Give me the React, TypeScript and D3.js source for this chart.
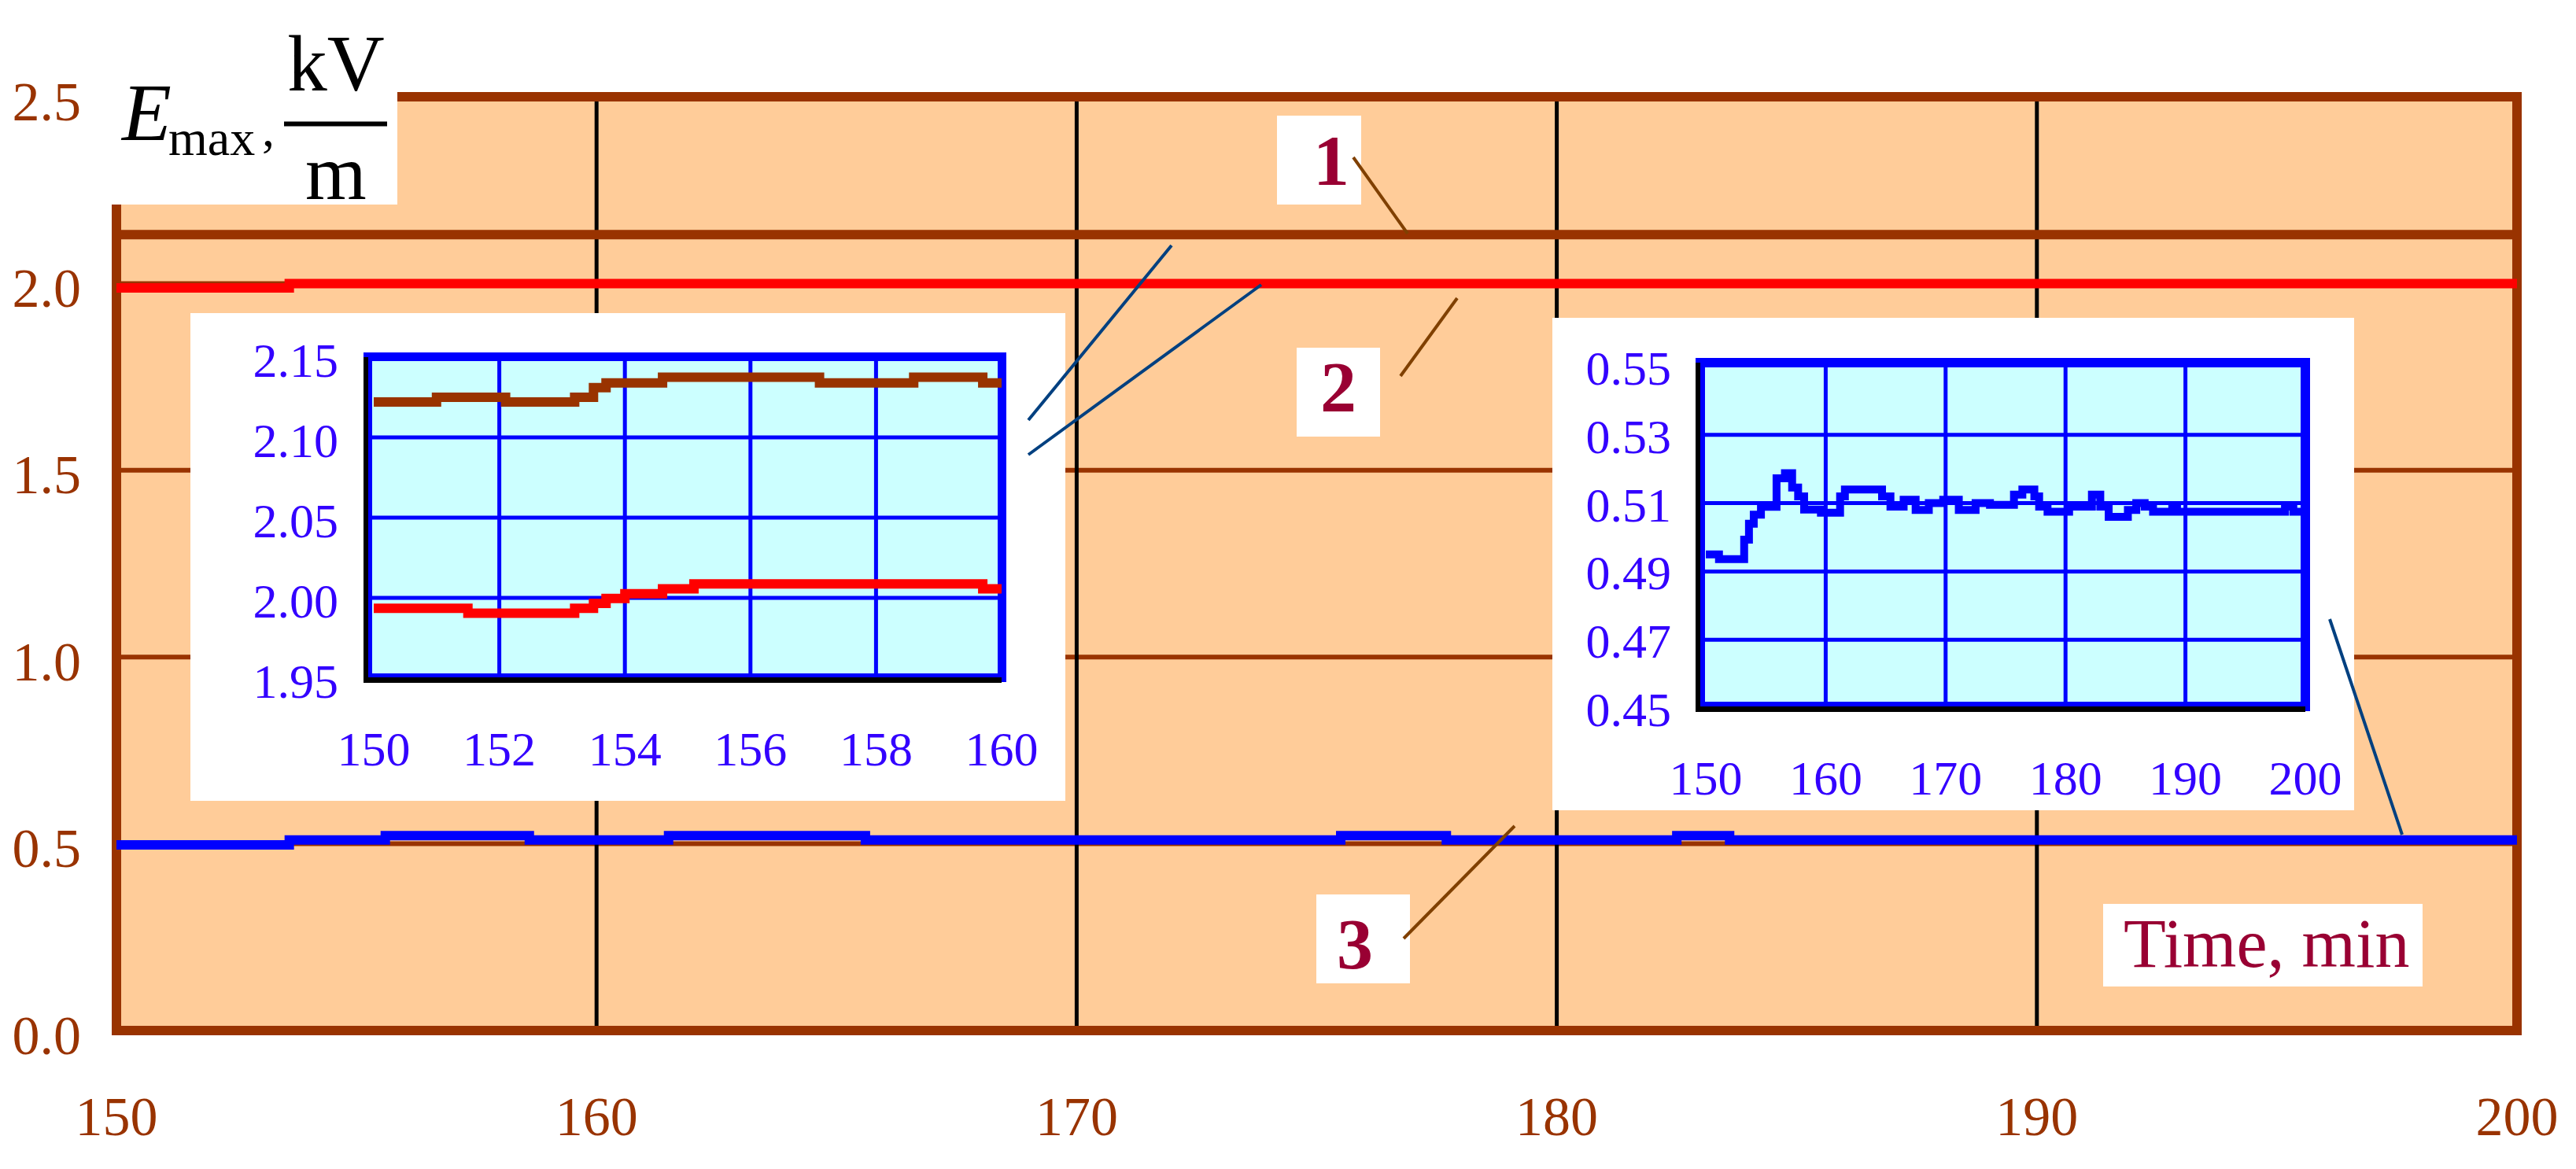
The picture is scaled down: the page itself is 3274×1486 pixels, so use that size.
import React from "react";
import * as d3 from "d3";

// ---------- data ----------
const mainTicksX = [150, 160, 170, 180, 190, 200];
const mainTicksY = [0.0, 0.5, 1.0, 1.5, 2.0, 2.5];

// main chart, step series (time of step start, value)
const s1MainT = [150, 200];
const s1MainV = [2.131, 2.131];
const s2MainT = [150, 153.6, 200];
const s2MainV = [1.988, 2.0, 2.0];
const s3MainT = [150, 153.6, 155.6, 158.6, 161.5, 165.6, 175.5, 177.7, 182.5, 183.6, 200];
const s3MainV = [0.497, 0.51, 0.522, 0.51, 0.522, 0.51, 0.522, 0.51, 0.522, 0.51, 0.51];

// inset 1 (curves 1 and 2, 150..160 min)
const inset1TicksX = [150, 152, 154, 156, 158, 160];
const inset1TicksY = [1.95, 2.0, 2.05, 2.1, 2.15];
const s1InsetT = [150, 151.0, 152.1, 153.2, 153.5, 153.7, 154.6, 157.1, 158.6, 159.7, 160];
const s1InsetV = [2.122, 2.125, 2.122, 2.125, 2.131, 2.134, 2.1375, 2.134, 2.1375, 2.134, 2.134];
const s2InsetT = [150, 151.5, 153.2, 153.5, 153.7, 154.0, 154.6, 155.1, 159.7, 160];
const s2InsetV = [1.9935, 1.9904, 1.9935, 1.9966, 1.9996, 2.0026, 2.0056, 2.0087, 2.0056, 2.0056];

// inset 2 (curve 3, 150..200 min)
const inset2TicksX = [150, 160, 170, 180, 190, 200];
const inset2TicksY = [0.45, 0.47, 0.49, 0.51, 0.53, 0.55];
const s3InsetT = [150, 151.1, 153.2, 153.6, 154.0, 154.6, 155.9, 156.6, 157.2, 157.7, 158.2, 159.6, 161.2, 161.6, 164.7, 165.4, 166.5, 167.5, 168.6, 169.8, 171.1, 172.5, 173.7, 175.7, 176.4, 177.4, 177.8, 178.5, 180.3, 182.2, 182.9, 183.6, 185.2, 185.9, 186.6, 187.3, 188.9, 189.3, 198.3, 199.0, 200];
const s3InsetV = [0.495, 0.4936, 0.4993, 0.504, 0.5066, 0.5089, 0.5173, 0.5188, 0.5146, 0.512, 0.5081, 0.5072, 0.512, 0.514, 0.512, 0.509, 0.511, 0.508, 0.51, 0.511, 0.508, 0.51, 0.5095, 0.5125, 0.514, 0.512, 0.509, 0.5075, 0.509, 0.5125, 0.509, 0.506, 0.508, 0.51, 0.509, 0.5075, 0.509, 0.5075, 0.509, 0.5075, 0.5075];

const curveLabels = ["1", "2", "3"];
const xTitle = "Time, min";

// ---------- styles ----------
const BROWN = "#993300";
const PEACH = "#FFCC99";
const CYAN = "#CCFFFF";
const BLUE = "#0000FF";
const RED = "#FF0000";
const LABEL = "#990033";
const INSET_TXT = "#3300FF";
const SERIF = "'Liberation Serif', 'Times New Roman', serif";

const zip = (t: number[], v: number[]) => t.map((d, i) => [d, v[i]] as [number, number]);

export default function App() {
  const W = 3274, H = 1486;
  const x = d3.scaleLinear().domain([150, 200]).range([148, 3199]);
  const y = d3.scaleLinear().domain([0, 2.5]).range([1310, 123]);
  const mainLine = d3
    .line<[number, number]>()
    .x((d) => x(d[0]))
    .y((d) => y(d[1]))
    .curve(d3.curveStepAfter);

  // inset 1
  const x1 = d3.scaleLinear().domain([150, 160]).range([475, 1273]);
  const y1 = d3.scaleLinear().domain([1.95, 2.15]).range([862, 454]);
  const line1 = d3
    .line<[number, number]>()
    .x((d) => x1(d[0]))
    .y((d) => y1(d[1]))
    .curve(d3.curveStepAfter);

  // inset 2
  const x2 = d3.scaleLinear().domain([150, 200]).range([2168, 2930]);
  const y2 = d3.scaleLinear().domain([0.45, 0.55]).range([900, 466]);
  const line2 = d3
    .line<[number, number]>()
    .x((d) => x2(d[0]))
    .y((d) => y2(d[1]))
    .curve(d3.curveStepAfter);

  const px0 = x(150), px1 = x(200), py0 = y(2.5), py1 = y(0);

  return (
    <svg
      width={W}
      height={H}
      style={{ position: "absolute", left: 0, top: 0, background: "#fff" }}
      fontFamily={SERIF}
    >
      <rect x={0} y={0} width={W} height={H} fill="#fff" />
      {/* plot area */}
      <rect x={px0} y={py0} width={px1 - px0} height={py1 - py0} fill={PEACH} />
      {mainTicksY.slice(1, -1).map((v) => (
        <line key={"hg" + v} x1={px0} x2={px1} y1={y(v)} y2={y(v)} stroke={BROWN} strokeWidth={6} />
      ))}
      {mainTicksX.slice(1, -1).map((v) => (
        <line key={"vg" + v} x1={x(v)} x2={x(v)} y1={py0} y2={py1} stroke="#000" strokeWidth={5} />
      ))}
      <path d={mainLine(zip(s1MainT, s1MainV)) || ""} fill="none" stroke={BROWN} strokeWidth={12} />
      <rect x={px0} y={py0} width={px1 - px0} height={py1 - py0} fill="none" stroke={BROWN} strokeWidth={12} />
      <path d={mainLine(zip(s2MainT, s2MainV)) || ""} fill="none" stroke={RED} strokeWidth={12} />
      <path d={mainLine(zip(s3MainT, s3MainV)) || ""} fill="none" stroke={BLUE} strokeWidth={12} />

      {/* axis tick labels */}
      {mainTicksY.map((v) => (
        <text key={"yl" + v} x={103} y={y(v) + 6} textAnchor="end" dominantBaseline="central" fontSize={70} fill={BROWN}>
          {v.toFixed(1)}
        </text>
      ))}
      {mainTicksX.map((v) => (
        <text key={"xl" + v} x={x(v)} y={1419} textAnchor="middle" dominantBaseline="central" fontSize={70} fill={BROWN}>
          {v}
        </text>
      ))}

      {/* y title box */}
      <rect x={128} y={0} width={377} height={260} fill="#fff" />
      <text x={155} y={178} fontSize={103} fontStyle="italic" fill="#000">E</text>
      <text x={214} y={197} fontSize={64} fill="#000">max</text>
      <text x={333} y={186} fontSize={64} fill="#000">,</text>
      <text x={427} y={115} fontSize={101} textAnchor="middle" fill="#000">kV</text>
      <line x1={361} x2={492} y1={157.5} y2={157.5} stroke="#000" strokeWidth={6} />
      <text x={427} y={253} fontSize={100} textAnchor="middle" fill="#000">m</text>

      {/* inset 1 */}
      <rect x={242} y={398} width={1112} height={620} fill="#fff" />
      <rect x={467} y={454} width={806} height={408} fill={CYAN} />
      {inset1TicksY.slice(1, -1).map((v) => (
        <line key={"i1h" + v} x1={467} x2={1273} y1={y1(v)} y2={y1(v)} stroke={BLUE} strokeWidth={5} />
      ))}
      {inset1TicksX.slice(1, -1).map((v) => (
        <line key={"i1v" + v} x1={x1(v)} x2={x1(v)} y1={454} y2={862} stroke={BLUE} strokeWidth={5} />
      ))}
      <rect x={467.5} y={453.5} width={806} height={408} fill="none" stroke={BLUE} strokeWidth={11} />
      <rect x={462} y={454} width={6} height={414} fill="#000" />
      <rect x={462} y={861} width={811} height={7} fill="#000" />
      <path d={line1(zip(s1InsetT, s1InsetV)) || ""} fill="none" stroke={BROWN} strokeWidth={12} />
      <path d={line1(zip(s2InsetT, s2InsetV)) || ""} fill="none" stroke={RED} strokeWidth={12} />
      {inset1TicksY.map((v) => (
        <text key={"i1yl" + v} x={430} y={y1(v) + 4} textAnchor="end" dominantBaseline="central" fontSize={62} fill={INSET_TXT}>
          {v.toFixed(2)}
        </text>
      ))}
      {inset1TicksX.map((v) => (
        <text key={"i1xl" + v} x={x1(v)} y={952} textAnchor="middle" dominantBaseline="central" fontSize={62} fill={INSET_TXT}>
          {v}
        </text>
      ))}

      {/* inset 2 */}
      <rect x={1973} y={404} width={1019} height={626} fill="#fff" />
      <rect x={2161} y={461} width={769} height={437} fill={CYAN} />
      {inset2TicksY.slice(1, -1).map((v) => (
        <line key={"i2h" + v} x1={2161} x2={2930} y1={y2(v)} y2={y2(v)} stroke={BLUE} strokeWidth={5} />
      ))}
      {inset2TicksX.slice(1, -1).map((v) => (
        <line key={"i2v" + v} x1={x2(v)} x2={x2(v)} y1={461} y2={898} stroke={BLUE} strokeWidth={5} />
      ))}
      <rect x={2161} y={461} width={769} height={437} fill="none" stroke={BLUE} strokeWidth={12} />
      <rect x={2155} y={461} width={6} height={444} fill="#000" />
      <rect x={2155} y={898} width={775} height={7} fill="#000" />
      <path d={line2(zip(s3InsetT, s3InsetV)) || ""} fill="none" stroke={BLUE} strokeWidth={10} />
      {inset2TicksY.map((v) => (
        <text key={"i2yl" + v} x={2124} y={y2(v) + 2} textAnchor="end" dominantBaseline="central" fontSize={62} fill={INSET_TXT}>
          {v.toFixed(2)}
        </text>
      ))}
      {inset2TicksX.map((v) => (
        <text key={"i2xl" + v} x={x2(v)} y={989} textAnchor="middle" dominantBaseline="central" fontSize={62} fill={INSET_TXT}>
          {v}
        </text>
      ))}

      {/* curve labels */}
      <rect x={1623} y={147} width={107} height={113} fill="#fff" />
      <text x={1692} y={235} textAnchor="middle" fontSize={92} fontWeight="bold" fill={LABEL}>{curveLabels[0]}</text>
      <rect x={1648} y={442} width={106} height={113} fill="#fff" />
      <text x={1701} y={523} textAnchor="middle" fontSize={92} fontWeight="bold" fill={LABEL}>{curveLabels[1]}</text>
      <rect x={1673} y={1137} width={119} height={113} fill="#fff" />
      <text x={1722} y={1231} textAnchor="middle" fontSize={92} fontWeight="bold" fill={LABEL}>{curveLabels[2]}</text>

      {/* x title */}
      <rect x={2673} y={1149} width={406} height={105} fill="#fff" />
      <text x={2699} y={1229} fontSize={88} fill={LABEL}>{xTitle}</text>

      {/* leader lines */}
      <line x1={1307} y1={534} x2={1489} y2={312} stroke="#004080" strokeWidth={4} />
      <line x1={1307} y1={578} x2={1603} y2={362} stroke="#004080" strokeWidth={4} />
      <line x1={2961} y1={787} x2={3053} y2={1061} stroke="#004080" strokeWidth={4} />
      <line x1={1720} y1={200} x2={1789} y2={297} stroke="#804000" strokeWidth={4} />
      <line x1={1852} y1={379} x2={1780} y2={478} stroke="#804000" strokeWidth={4} />
      <line x1={1784} y1={1193} x2={1925} y2={1050} stroke="#804000" strokeWidth={4} />
    </svg>
  );
}
